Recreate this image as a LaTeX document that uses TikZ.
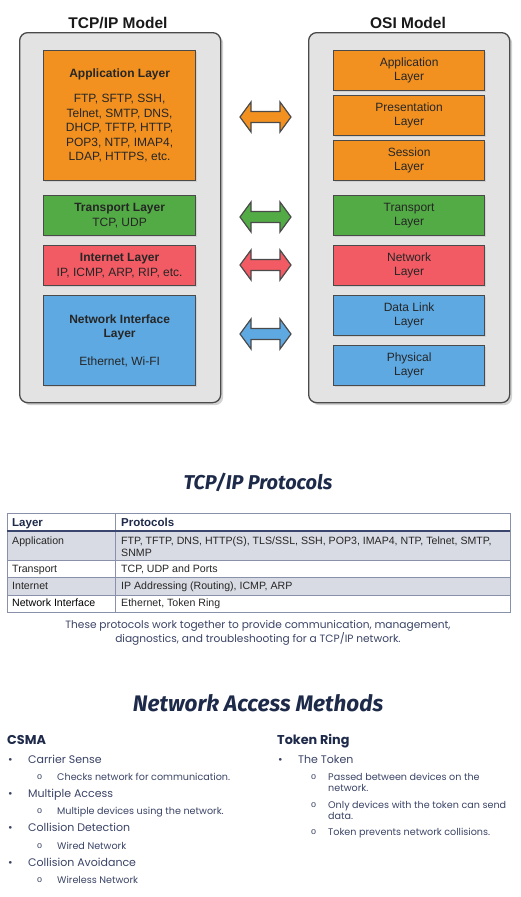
\documentclass[tikz,border=0pt]{standalone}
\usepackage{fontspec}
\setmainfont{Liberation Sans}
\newfontfamily\popp{Poppins}
\newfontfamily\handf{Fira Sans}
\usetikzlibrary{shadows}
\definecolor{lorange}{HTML}{F29120}
\definecolor{lgreen}{HTML}{52AB45}
\definecolor{lred}{HTML}{F25B64}
\definecolor{lblue}{HTML}{5EA9E2}
\definecolor{panelfill}{HTML}{E3E3E3}
\definecolor{edgegrey}{HTML}{4A4A4A}
\definecolor{rowgrey}{HTML}{D8DBE3}
\definecolor{tabline}{HTML}{8890AA}
\definecolor{tabhead}{HTML}{3A466E}
\definecolor{navy}{HTML}{1E2A4A}
\definecolor{bodytxt}{HTML}{3B4466}
\begin{document}
\begin{tikzpicture}[x=1pt,y=-1pt,
  panel/.style={draw=edgegrey,line width=1.3pt,fill=panelfill,rounded corners=8pt,
    anchor=north west,minimum width=201pt,minimum height=370pt,inner sep=0pt,
    drop shadow={shadow xshift=2.5pt,shadow yshift=-2.5pt,fill=black!35}},
  layerbox/.style={draw=edgegrey,line width=1.2pt,anchor=north west,inner sep=0pt,
    minimum width=152pt,align=center,font=\fontsize{12}{14.5}\selectfont,text=black!85,
    drop shadow={shadow xshift=1pt,shadow yshift=-1pt,fill=black!25}},
  modeltitle/.style={font=\fontsize{15.5}{18}\selectfont\bfseries,text=black!90},
  dblarr/.style={draw=edgegrey,line width=1.2pt,line join=miter},
  cellt/.style={anchor=west,text height=0.7em,text depth=0pt,inner sep=0pt,
    font=\fontsize{10.6}{12}\selectfont,text=black!85},
  cellh/.style={cellt,font=\fontsize{11.5}{12}\selectfont\bfseries,text=navy},
  handtitle/.style={font=\handf\fontsize{20}{24}\selectfont\bfseries\itshape,text=navy},
  sect/.style={anchor=west,inner sep=0pt,text height=0.7em,text depth=0pt,
    font=\popp\fontsize{12.8}{15}\selectfont\bfseries,text=navy},
  bul/.style={anchor=west,inner sep=0pt,text height=0.7em,text depth=0pt,
    font=\popp\fontsize{11}{13}\selectfont,text=bodytxt},
  sub/.style={anchor=west,inner sep=0pt,text height=0.7em,text depth=0pt,
    font=\popp\fontsize{9.6}{11}\selectfont,text=bodytxt},
  subo/.style={anchor=west,inner sep=0pt,font=\fontsize{9}{10}\selectfont,text=bodytxt}
]
\useasboundingbox (0,0) rectangle (521,897);
\fill[white] (0,0) rectangle (521,897);

% ---------- models ----------
\node[modeltitle] (tcptitle) at (118,23) {TCP/IP Model};
\node[modeltitle] (osititle) at (408,23) {OSI Model};
\node[panel] (tcppanel) at (19,32) {};
\node[panel] (osipanel) at (308,32) {};

\node[layerbox,fill=lorange,minimum height=130pt] (tapp) at (43,50)
  {\textbf{Application Layer}\\[11pt]FTP, SFTP, SSH,\\Telnet, SMTP, DNS,\\DHCP, TFTP, HTTP,\\POP3, NTP, IMAP4,\\LDAP, HTTPS, etc.};
\node[layerbox,fill=lgreen,minimum height=40pt] (ttra) at (43,195)
  {\textbf{Transport Layer}\\TCP, UDP};
\node[layerbox,fill=lred,minimum height=40pt] (tint) at (43,245)
  {\textbf{Internet Layer}\\IP, ICMP, ARP, RIP, etc.};
\node[layerbox,fill=lblue,minimum height=90pt] (tnet) at (43,295)
  {\textbf{Network Interface}\\\textbf{Layer}\\[13pt]Ethernet, Wi-FI};

\node[layerbox,fill=lorange,minimum width=151pt,minimum height=40pt] (oapp) at (333,50) {Application\\Layer};
\node[layerbox,fill=lorange,minimum width=151pt,minimum height=40pt] (opre) at (333,95) {Presentation\\Layer};
\node[layerbox,fill=lorange,minimum width=151pt,minimum height=40pt] (oses) at (333,140) {Session\\Layer};
\node[layerbox,fill=lgreen,minimum width=151pt,minimum height=40pt] (otra) at (333,195) {Transport\\Layer};
\node[layerbox,fill=lred,minimum width=151pt,minimum height=40pt] (onet) at (333,245) {Network\\Layer};
\node[layerbox,fill=lblue,minimum width=151pt,minimum height=40pt] (odat) at (333,295) {Data Link\\Layer};
\node[layerbox,fill=lblue,minimum width=151pt,minimum height=40pt] (ophy) at (333,345) {Physical\\Layer};

% double arrows
\newcommand\twoheadarrow[2]{%
  \draw[dblarr,fill=#2] (240,#1) -- (251,#1-15) -- (251,#1-5.5) -- (280,#1-5.5) -- (280,#1-15)
    -- (291,#1) -- (280,#1+15) -- (280,#1+5.5) -- (251,#1+5.5) -- (251,#1+15) -- cycle;}
\twoheadarrow{117}{lorange}
\twoheadarrow{217}{lgreen}
\twoheadarrow{265}{lred}
\twoheadarrow{334}{lblue}

% ---------- protocols table ----------
\node[handtitle] (prottitle) at (258,482) {TCP/IP Protocols};

\fill[rowgrey] (7,531) rectangle (510,560);
\fill[rowgrey] (7,577) rectangle (510,595);
\draw[tabline,line width=0.8pt] (7,513) rectangle (510,612);
\draw[tabline,line width=0.8pt] (115,513) -- (115,612);
\draw[tabline,line width=0.8pt] (7,560) -- (510,560) (7,577) -- (510,577) (7,595) -- (510,595);
\draw[tabhead,line width=1.4pt] (7,531) -- (510,531);

\node[cellh] (hlayer) at (12,523) {Layer};
\node[cellh] (hprot) at (121,523) {Protocols};
\node[cellt] (lapp) at (12,541) {Application};
\node[cellt] (papp) at (121,541) {FTP, TFTP, DNS, HTTP(S), TLS/SSL, SSH, POP3, IMAP4, NTP, Telnet, SMTP,};
\node[cellt] (papp2) at (121,553) {SNMP};
\node[cellt] (ltra) at (12,569) {Transport};
\node[cellt] (ptra) at (121,569) {TCP, UDP and Ports};
\node[cellt] (lint) at (12,586) {Internet};
\node[cellt] (pint) at (121,586) {IP Addressing (Routing), ICMP, ARP};
\node[cellt,text=black] (lnet) at (12,603) {Network Interface};
\node[cellt] (pnet) at (121,603) {Ethernet, Token Ring};

\node[align=center,font=\popp\fontsize{10.6}{14}\selectfont,text=bodytxt] (caption) at (258,633)
  {These protocols work together to provide communication, management,\\diagnostics, and troubleshooting for a TCP/IP network.};

% ---------- access methods ----------
\node[handtitle,font=\handf\fontsize{22.5}{27}\selectfont\bfseries\itshape] (accesstitle) at (258,703) {Network Access Methods};

\node[sect] (csma) at (7,741) {CSMA};
\foreach \y/\t [count=\i] in {760/Carrier Sense,794/Multiple Access,828/Collision Detection,863/Collision Avoidance}{
  \node[bul] (cb\i) at (8,\y) {•};
  \node[bul] (ct\i) at (28,\y) {\t};
}
\foreach \y/\t [count=\i] in {777/Checks network for communication.,811/Multiple devices using the network.,846/Wired Network,880/Wireless Network}{
  \node[subo] (co\i) at (37,\y) {o};
  \node[sub] (cs\i) at (57,\y) {\t};
}

\node[sect] (token) at (277,741) {Token Ring};
\node[bul] (tb1) at (278,760) {•};
\node[bul] (tt1) at (298,760) {The Token};
\node[subo] (to1) at (311,777) {o};
\node[sub] (ts1) at (328,777) {Passed between devices on the};
\node[sub] (ts1b) at (328,788) {network.};
\node[subo] (to2) at (311,805) {o};
\node[sub] (ts2) at (328,805) {Only devices with the token can send};
\node[sub] (ts2b) at (328,816) {data.};
\node[subo] (to3) at (311,832) {o};
\node[sub] (ts3) at (328,832) {Token prevents network collisions.};
\end{tikzpicture}
\end{document}
